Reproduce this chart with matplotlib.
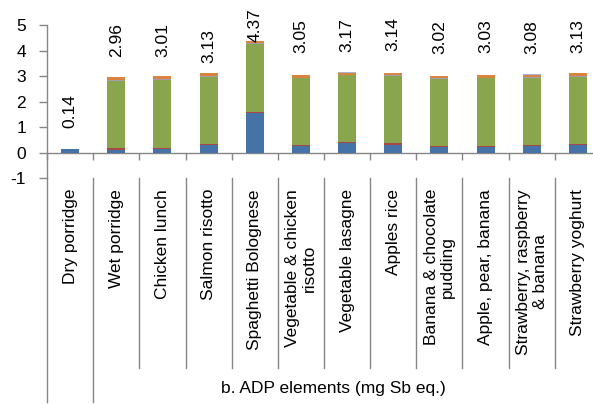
import numpy as np
import matplotlib
matplotlib.use("Agg")
import matplotlib.pyplot as plt
from matplotlib.lines import Line2D
import matplotlib.transforms as mtransforms

plt.rcParams['font.family'] = ['Liberation Sans', 'DejaVu Sans']
plt.rcParams['axes.unicode_minus'] = False

categories = ["Dry porridge", "Wet porridge", "Chicken lunch", "Salmon risotto",
              "Spaghetti Bolognese", "Vegetable & chicken\nrisotto", "Vegetable lasagne",
              "Apples rice", "Banana & chocolate\npudding", "Apple, pear, banana",
              "Strawberry, raspberry\n& banana", "Strawberry yoghurt"]

blue   = [0.12, 0.11, 0.13, 0.30, 1.54, 0.24, 0.37, 0.31, 0.21, 0.20, 0.26, 0.30]
red    = [0.00, 0.05, 0.04, 0.05, 0.07, 0.05, 0.04, 0.05, 0.05, 0.07, 0.05, 0.05]
green  = [0.02, 2.67, 2.70, 2.62, 2.65, 2.62, 2.62, 2.64, 2.62, 2.64, 2.63, 2.63]
purple = [0.00, 0.03, 0.03, 0.03, 0.03, 0.03, 0.03, 0.03, 0.03, 0.03, 0.03, 0.03]
orange = [0.00, 0.10, 0.11, 0.13, 0.08, 0.11, 0.08, 0.11, 0.11, 0.09, 0.09, 0.12]
ltblue = [0.00, 0.00, 0.00, 0.00, 0.00, 0.00, 0.03, 0.00, 0.00, 0.00, 0.02, 0.00]

total_labels = ["0.14", "2.96", "3.01", "3.13", "4.37", "3.05", "3.17",
                "3.14", "3.02", "3.03", "3.08", "3.13"]
label_gap_px = [21, 20, 19, 10, -1, 22, 20, 22, 22, 22, 20, 20]

series = [blue, red, green, purple, orange, ltblue]
colors = ['#4572A7', '#AA4643', '#89A54E', '#A49CAE', '#DB843D', '#A3B6D8']

W, H = 593, 404
fig = plt.figure(figsize=(W / 100, H / 100), dpi=100)
ax_left, ax_right, ax_top, ax_bot = 47, 601, 25.3, 178
ax = fig.add_axes([ax_left / W, 1 - ax_bot / H, (ax_right - ax_left) / W, (ax_bot - ax_top) / H])

x = np.arange(len(categories))
bottom = np.zeros(len(categories))
for vals, c in zip(series, colors):
    v = np.array(vals)
    ax.bar(x, v, bottom=bottom, width=0.39, color=c, edgecolor='none', linewidth=0, zorder=3)
    bottom += v

totals = bottom
for i, (lab, gap) in enumerate(zip(total_labels, label_gap_px)):
    ax.annotate(lab, xy=(i, totals[i]), xytext=(0, gap * 0.72), textcoords='offset points',
                rotation=90, ha='center', va='bottom', fontsize=12.5, color='black',
                annotation_clip=False)

ax.set_xlim(-0.5, len(categories) - 0.5)
ax.set_ylim(-1, 5)
ax.set_yticks(np.arange(-1, 6, 1))
ax.tick_params(axis='y', direction='out', length=6, width=1, color='#868686',
               labelsize=12.5, pad=9)

gray = '#868686'
for s in ['top', 'right']:
    ax.spines[s].set_visible(False)
ax.spines['left'].set_color(gray)
ax.spines['left'].set_linewidth(1)
ax.spines['bottom'].set_position(('data', 0))
ax.spines['bottom'].set_color(gray)
ax.spines['bottom'].set_linewidth(1)
ax.set_xticks(np.arange(-0.5, len(categories), 1))
ax.set_xticklabels([])
ax.tick_params(axis='x', direction='out', length=5, width=1, color=gray)

# table-like category area
trans = mtransforms.blended_transform_factory(ax.transData, fig.transFigure)
y_top = 1 - ax_bot / H
for k in range(1, len(categories) + 1):
    xb = k - 0.5
    y_end = 1 - 402 / H if k == 1 else 1 - 368 / H
    fig.add_artist(Line2D([xb, xb], [y_top, y_end], transform=trans, color=gray, lw=1))
fig.add_artist(Line2D([ax_left / W, ax_left / W], [y_top, 1 - 402 / H],
                      transform=fig.transFigure, color=gray, lw=1))

for i, cat in enumerate(categories):
    fig.text(i, 1 - 189 / H, cat, transform=trans, rotation=90, ha='center', va='top',
             multialignment='center', fontsize=12.5, linespacing=1.15)

fig.text(5.71, 1 - 388 / H, "b. ADP elements (mg Sb eq.)", transform=trans,
         ha='center', va='center', fontsize=12.5)

fig.savefig("out.png", dpi=100)
